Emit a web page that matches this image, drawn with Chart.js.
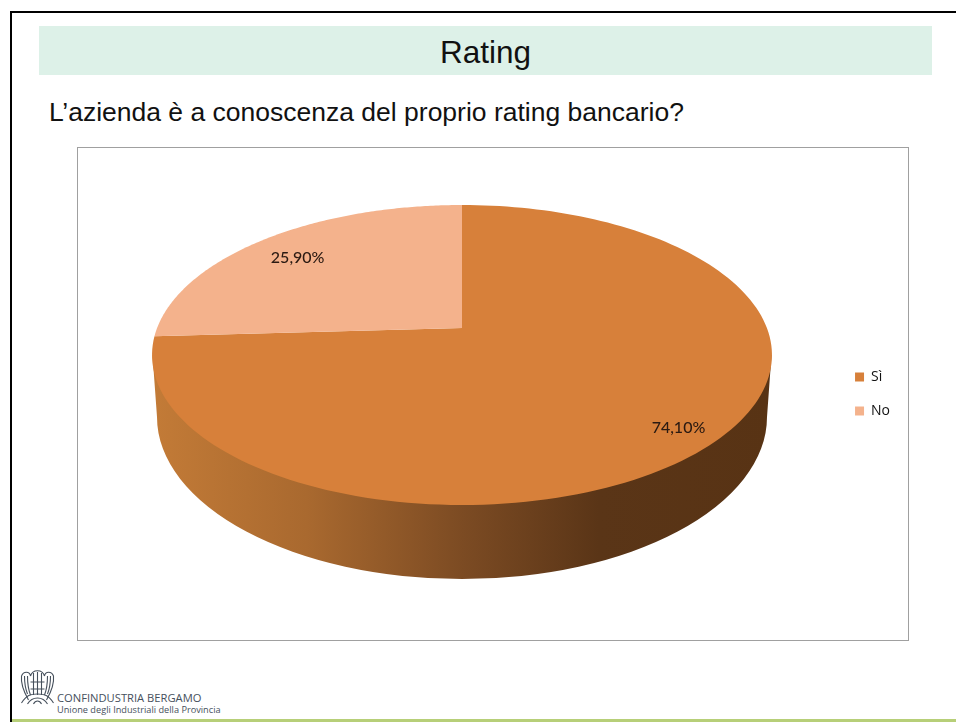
<!DOCTYPE html>
<html lang="it">
<head>
<meta charset="utf-8">
<title>Rating</title>
<script src="https://cdn.jsdelivr.net/npm/chart.js@4/dist/chart.umd.min.js"></script>
<style>
html,body{margin:0;padding:0;background:#fff;overflow:hidden}
#page{position:relative;width:956px;height:722px;overflow:hidden;font-family:"Liberation Sans",Arial,sans-serif;color:#000}
#frame-top{position:absolute;left:10px;top:11px;width:946px;height:2px;background:#000}
#frame-left{position:absolute;left:10px;top:11px;width:2px;height:711px;background:#000}
#band{position:absolute;left:39px;top:26px;width:893px;height:49px;background:#ddf1e8;text-align:center;line-height:53px;font-size:31.5px;color:#111}
#question{position:absolute;left:49px;top:96px;font-size:26.5px;line-height:32px;white-space:nowrap;color:#111}
#box{position:absolute;left:77px;top:147px;width:830px;height:492px;border:1px solid #a0a0a0;background:#fff}
#wrap{position:absolute;left:78px;top:148px;width:822px;height:492px}
#logo{position:absolute;left:19px;top:669px}
#org1{position:absolute;left:57px;top:691px;font:11.2px/13px "Open Sans",sans-serif;color:#46505c;white-space:nowrap}
#org2{position:absolute;left:57px;top:704px;font:9.2px/12px "Open Sans",sans-serif;color:#46505c;white-space:nowrap}
#foot{position:absolute;left:12px;top:719px;width:944px;height:3px;background:#b7cf78}
</style>
</head>
<body>
<div id="page">
  <div id="frame-top"></div>
  <div id="frame-left"></div>
  <div id="band">Rating</div>
  <div id="question">L’azienda è a conoscenza del proprio rating bancario?</div>
  <div id="box"></div>
  <div id="wrap"><canvas id="chart" width="822" height="492"></canvas></div>
  <svg id="logo" width="37" height="36" viewBox="0 0 36 36" fill="none" stroke="#46505c" stroke-width="1.1">
    <path d="M2 7c2-5 8-5 9 0c2-7 12-7 14 0c1-5 7-5 9 0c1 9-3 17-7 24M2 7c-1 9 3 17 7 24"/>
    <path d="M5 7c0 7 1 13 3 18M8 7c0 7 1 14 3 19M14 4v22M18 3v23M22 4v22M28 7c0 7-1 14-3 19M31 7c0 7-1 13-3 18M11 13h14M11 20h14"/>
    <path d="M2 34c5-8 9-9 16-9s11 1 16 9M8 35c3-5 6-6 10-6s7 1 10 6M14 35c1-2 2-3 4-3s3 1 4 3"/>
  </svg>
  <div id="org1">CONFINDUSTRIA BERGAMO</div>
  <div id="org2">Unione degli Industriali della Provincia</div>
  <div id="foot"></div>
</div>
<script>
// --- Data ---
const categories = ['Sì', 'No'];
const values = [74.1, 25.9];
const valueLabels = ['74,10%', '25,90%'];
const sliceColors = ['#d7803a', '#f4b28c'];

// --- Perspective of the pie, in canvas pixels ---
const view = {cx: 384, cy: 180, rx: 304.9, ry: 145.14, tilt: -0.18};
const labelReach = [0.85, 0.8];
const labelNudge = [[6, 5], [-3, 2]];

function project(u, v){
  const w = 1 + view.tilt * v;
  return {x: view.cx + view.rx * u / w, y: view.cy + view.ry * v / w};
}

const pie3d = {
  id: 'pie3d',
  beforeDatasetDraw(chart){
    const ctx = chart.ctx;
    const arcs = chart.getDatasetMeta(0).data;

    // rim of the disc
    const grad = ctx.createLinearGradient(74, 0, 694, 0);
    grad.addColorStop(0, '#c37b37');
    grad.addColorStop(0.25, '#a9692f');
    grad.addColorStop(0.5, '#7c4b23');
    grad.addColorStop(0.72, '#5a3517');
    grad.addColorStop(1, '#583314');
    ctx.save();
    ctx.beginPath();
    ctx.moveTo(74.5, 207);
    ctx.lineTo(79, 269);
    ctx.ellipse(384, 269, 305, 162, 0, Math.PI, 0, true);
    ctx.lineTo(693.5, 207);
    ctx.closePath();
    ctx.fillStyle = grad;
    ctx.fill();

    // top face: the library's arc angles seen through the tilt
    arcs.forEach((arc, i) => {
      const steps = 160;
      ctx.beginPath();
      ctx.moveTo(view.cx, view.cy);
      for (let s = 0; s <= steps; s++){
        const t = arc.startAngle + (arc.endAngle - arc.startAngle) * s / steps;
        const p = project(Math.cos(t), Math.sin(t));
        ctx.lineTo(p.x, p.y);
      }
      ctx.closePath();
      ctx.fillStyle = sliceColors[i];
      ctx.fill();
    });

    // value labels
    ctx.font = '500 16px Lato, sans-serif';
    ctx.fillStyle = '#2b1a12';
    ctx.textAlign = 'center';
    ctx.textBaseline = 'middle';
    arcs.forEach((arc, i) => {
      const mid = (arc.startAngle + arc.endAngle) / 2;
      const p = project(Math.cos(mid) * labelReach[i], Math.sin(mid) * labelReach[i]);
      ctx.fillText(valueLabels[i], p.x + labelNudge[i][0], p.y + labelNudge[i][1]);
    });
    ctx.restore();
    return false;
  }
};

new Chart(document.getElementById('chart'), {
  type: 'pie',
  data: {
    labels: categories,
    datasets: [{data: values, backgroundColor: sliceColors, borderWidth: 0}]
  },
  options: {
    responsive: false,
    animation: false,
    plugins: {
      tooltip: {enabled: false},
      legend: {
        position: 'right',
        labels: {
          boxWidth: 9,
          boxHeight: 9,
          padding: 20,
          color: '#111',
          font: {family: '"Open Sans", sans-serif', size: 14}
        }
      }
    }
  },
  plugins: [pie3d]
});
</script>
</body>
</html>
